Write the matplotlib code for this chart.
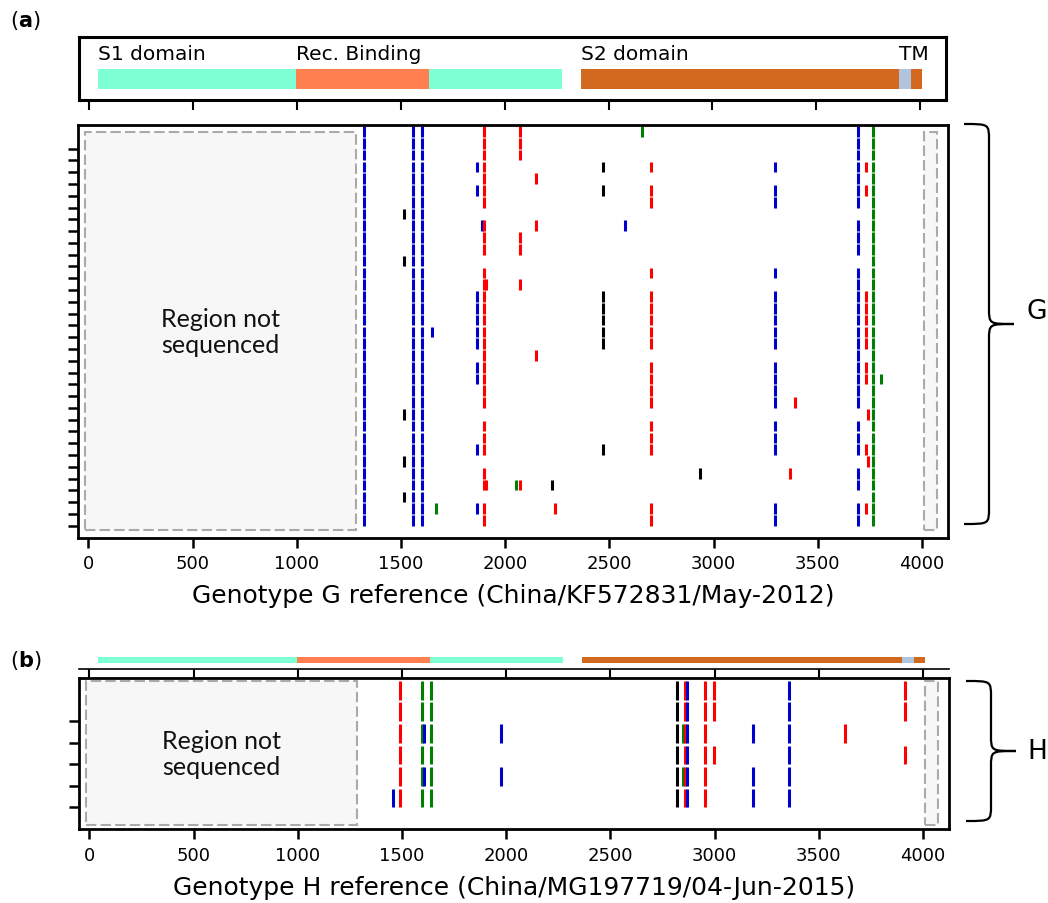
import numpy as np
import matplotlib
matplotlib.use("Agg")
import matplotlib.pyplot as plt
from matplotlib.patches import Rectangle, PathPatch
from matplotlib.path import Path
import matplotlib.transforms as mtransforms

# ---- domains of the spike gene (start, end, colour) ----
dom_start = [40, 995, 1635, 2365, 3900, 3955]
dom_end = [995, 1635, 2275, 3900, 3955, 4010]
dom_color = ['aquamarine', 'coral', 'aquamarine', 'chocolate', 'lightsteelblue', 'chocolate']
dom_label = ['S1 domain', 'Rec. Binding', None, 'S2 domain', 'TM', None]

# ---- genotype G: 34 sequences, rows counted from the top ----
g_n = 34
g_pos = [1323, 1516, 1559, 1602, 1651, 1670, 1867, 1891, 1900, 1908, 2053, 2069,
         2150, 2223, 2237, 2468, 2574, 2655, 2698, 2934, 3295, 3367, 3391, 3694,
         3732, 3742, 3766, 3804]
g_col = ['b', 'k', 'b', 'b', 'b', 'g', 'b', 'b', 'r', 'r', 'g', 'r',
         'r', 'k', 'r', 'k', 'b', 'g', 'r', 'k', 'b', 'r', 'r', 'b',
         'r', 'r', 'g', 'g']
clade_x = [7, 11, 24, 28, 31]
clade_y = [3, 5, 14, 15, 16, 17, 18, 20, 21, 27, 32]
clade_z = [3, 5, 6, 12, 14, 15, 16, 17, 18, 20, 21, 22, 23, 25, 26, 27, 32, 33]
all_g = list(range(g_n))
not_x = [i for i in all_g if i not in clade_x]
g_rows = [all_g, clade_x, all_g, all_g, [17], [32], clade_y, [8], not_x, [13, 30], [30],
          [0, 1, 2, 9, 10, 13, 30], [4, 8, 19], [30], [32],
          [3, 5, 14, 15, 16, 17, 18, 27], [8], [0], clade_z, [29], clade_z, [29], [23],
          not_x, clade_y, [24, 28], all_g, [21]]

# ---- genotype H: 6 sequences ----
h_n = 6
h_pos = [1458, 1490, 1597, 1605, 1640, 1976, 2819, 2849, 2857, 2867, 2953, 2996,
         3183, 3356, 3624, 3916]
h_col = ['b', 'r', 'g', 'b', 'g', 'b', 'k', 'g', 'r', 'b', 'r', 'r',
         'b', 'b', 'r', 'r']
all_h = list(range(h_n))
h_rows = [[5], all_h, all_h, [2, 4], all_h, [2, 4], all_h, [2, 4], all_h, all_h, all_h,
          [0, 1, 3], [2, 4, 5], all_h, [2], [0, 1, 3]]

ticks_x = list(range(0, 4001, 500))
cmap = {'b': 'mediumblue', 'r': 'red', 'g': 'green', 'k': 'black'}

W, H = 1048, 904
fig = plt.figure(figsize=(W / 100, H / 100), dpi=100)


def box(l, t, r, b):
    return [l / W, 1 - b / H, (r - l) / W, (b - t) / H]


XL = (-50, 4125)


def draw_variants(ax, n, pos, col, rows, h):
    for p, c, rr in zip(pos, col, rows):
        ys = np.array([n - 1 - s for s in rr])
        ax.vlines([p] * len(ys), ys, ys + h, colors=cmap[c], lw=2.2, capstyle='butt')
    ax.set_ylim(-1, n)
    ax.set_yticks(range(n - 1))
    ax.set_yticklabels([])
    ax.set_xlim(*XL)
    ax.set_xticks(ticks_x)
    ax.tick_params(axis='both', length=7, width=1.8, labelsize=13, pad=5)
    for s in ax.spines.values():
        s.set_linewidth(2)


def not_seq(ax, y0, y1):
    tr = mtransforms.blended_transform_factory(ax.transData, ax.transAxes)
    for x0, x1 in [(-15, 1285), (4010, 4070)]:
        ax.add_patch(Rectangle((x0, y0), x1 - x0, y1 - y0, transform=tr,
                               facecolor='#f7f7f7', edgecolor='#aaaaaa', lw=1.5,
                               ls=(0, (5, 2)), zorder=0))
    ax.text(635, 0.5, 'Region not\nsequenced', transform=tr, ha='center', va='center',
            fontsize=18, family=['Lato', 'DejaVu Sans'], color='#111111', linespacing=1.15)


def draw_domains(ax, y0, y1, labels):
    for s, e, c, lab in zip(dom_start, dom_end, dom_color, dom_label):
        ax.add_patch(Rectangle((s, y0), e - s, y1 - y0, facecolor=c, edgecolor='none'))
        if labels and lab:
            ax.text(s, y1 + 0.1, lab, fontsize=14.5, ha='left', va='bottom')
    ax.set_xlim(*XL)
    ax.set_ylim(0, 1)
    ax.set_xticks(ticks_x)
    ax.set_xticklabels([])
    ax.set_yticks([])


def brace(x0, yt, yb, w, lw=1.6):
    xm = x0 + w * 0.5
    xr = x0 + w
    r = min(16, (yb - yt) / 8)
    ym = (yt + yb) / 2
    pts = [(x0, yt), (xm, yt), (xm, yt), (xm, yt + r),
           (xm, ym - r), (xm, ym), (xm, ym), (xr, ym),
           (xm, ym), (xm, ym), (xm, ym + r),
           (xm, yb - r), (xm, yb), (xm, yb), (x0, yb)]
    codes = [Path.MOVETO, Path.CURVE4, Path.CURVE4, Path.CURVE4,
             Path.LINETO, Path.CURVE4, Path.CURVE4, Path.CURVE4,
             Path.CURVE4, Path.CURVE4, Path.CURVE4,
             Path.LINETO, Path.CURVE4, Path.CURVE4, Path.CURVE4]
    pts = [(x / W, 1 - y / H) for x, y in pts]
    fig.add_artist(PathPatch(Path(pts, codes), transform=fig.transFigure,
                             facecolor='none', edgecolor='black', lw=lw))


# ---- panel a ----
ax_da = fig.add_axes(box(79, 38, 946, 101))
draw_domains(ax_da, 0.17, 0.49, True)
ax_da.tick_params(axis='x', direction='out', length=7, width=1.5)
for s in ax_da.spines.values():
    s.set_linewidth(2.2)

ax_a = fig.add_axes(box(78, 126, 948, 538.5))
not_seq(ax_a, 0.019, 0.983)
draw_variants(ax_a, g_n, g_pos, g_col, g_rows, 0.9)
ax_a.set_xlabel('Genotype G reference (China/KF572831/May-2012)', fontsize=18, labelpad=8)

# ---- panel b ----
ax_db = fig.add_axes(box(79, 652, 949, 670))
draw_domains(ax_db, 0.33, 0.67, False)
for k in ['top', 'left', 'right']:
    ax_db.spines[k].set_visible(False)
ax_db.spines['bottom'].set_linewidth(1.2)
ax_db.tick_params(axis='x', direction='out', length=8, width=1.5)

ax_b = fig.add_axes(box(79, 679, 949, 830))
not_seq(ax_b, 0.028, 0.98)
draw_variants(ax_b, h_n, h_pos, h_col, h_rows, 0.87)
ax_b.set_xlabel('Genotype H reference (China/MG197719/04-Jun-2015)', fontsize=18, labelpad=8)

fig.text(10 / W, 1 - 21 / H, r'($\mathbf{a}$)', fontsize=15, va='center')
fig.text(10 / W, 1 - 661 / H, r'($\mathbf{b}$)', fontsize=15, va='center')

brace(964, 125, 525, 50)
brace(966, 682, 822, 50)
fig.text(1037 / W, 1 - 312 / H, 'G', fontsize=19, ha='center', va='center')
fig.text(1037 / W, 1 - 752 / H, 'H', fontsize=19, ha='center', va='center')

fig.savefig('out.png', dpi=100)
